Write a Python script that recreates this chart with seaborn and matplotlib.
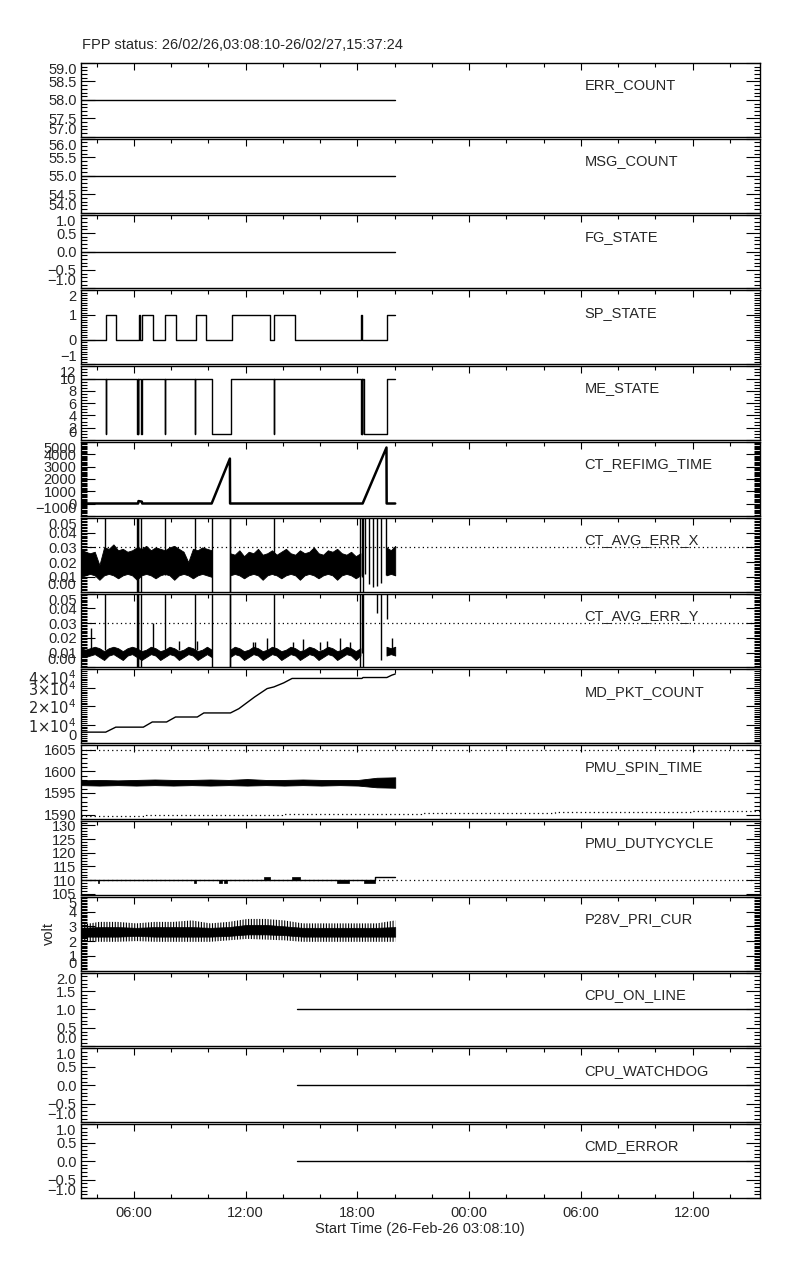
import numpy as np
import matplotlib
matplotlib.use("Agg")
import matplotlib.pyplot as plt
from matplotlib.ticker import MultipleLocator
import seaborn as sns

# time axis: hours since 26-Feb-26 00:00
T_START = 3 + 8 / 60 + 10 / 3600      # 03:08:10
T_STOP = 24 + 15 + 37 / 60 + 24 / 3600  # 27 Feb 15:37:24
DATA_END = 20.03
CPU_START = 14.78

TITLE = "FPP status: 26/02/26,03:08:10-26/02/27,15:37:24"
XLABEL = "Start Time (26-Feb-26 03:08:10)"
xtick_hours = [6, 12, 18, 24, 30, 36]
xtick_labels = ["06:00", "12:00", "18:00", "00:00", "06:00", "12:00"]

err_count = 58
msg_count = 55
fg_state = 0

sp_t = [T_START, 4.48, 5.02, 6.25, 6.30, 6.41, 7.00, 7.64, 8.23, 9.31, 9.84,
        11.24, 13.33, 13.54, 14.62, 18.21, 18.26, 19.60, DATA_END]
sp_v = [0, 1, 0, 1, 0, 1, 0, 1, 0, 1, 0, 1, 0, 1, 0, 1, 0, 1, 1]

me_t = [T_START, 4.47, 4.49, 6.17, 6.19, 6.22, 6.24, 6.37, 6.42, 7.65, 7.67,
        9.26, 9.28, 10.17, 11.20, 13.50, 13.52, 18.20, 18.22, 18.25, 18.27,
        18.33, 19.58, DATA_END]
me_v = [10, 1, 10, 1, 10, 1, 10, 1, 10, 1, 10, 1, 10, 1, 10, 1, 10, 1, 10, 1,
        10, 1, 10, 10]

ref_t = [T_START, 6.22, 6.24, 6.42, 6.44, 10.17, 11.15, 11.16, 18.28, 19.56,
         19.57, DATA_END]
ref_v = [0, 0, 200, 150, 0, 0, 3650, 0, 0, 4550, 0, 0]

# CT_AVG_ERR_X band, sampled every ~0.25 h in three segments
errx_a_hi = [0.029, 0.027, 0.026, 0.027, 0.018, 0.030, 0.029, 0.032, 0.028,
             0.029, 0.027, 0.028, 0.030, 0.029, 0.031, 0.028, 0.030, 0.029,
             0.028, 0.030, 0.031, 0.029, 0.027, 0.020, 0.029, 0.028, 0.030,
             0.029, 0.028]
errx_a_lo = [0.010, 0.011, 0.012, 0.011, 0.008, 0.011, 0.012, 0.011, 0.009,
             0.011, 0.012, 0.011, 0.008, 0.011, 0.012, 0.011, 0.009, 0.011,
             0.012, 0.011, 0.008, 0.011, 0.012, 0.011, 0.009, 0.011, 0.012,
             0.011, 0.010]
errx_b_hi = [0.026, 0.025, 0.028, 0.024, 0.027, 0.026, 0.029, 0.025, 0.026,
             0.028, 0.025, 0.027, 0.029, 0.026, 0.025, 0.028, 0.026, 0.027,
             0.030, 0.026, 0.025, 0.028, 0.027, 0.029, 0.026, 0.025, 0.027,
             0.024, 0.026]
errx_b_lo = [0.011, 0.012, 0.011, 0.009, 0.011, 0.012, 0.011, 0.008, 0.011,
             0.012, 0.011, 0.009, 0.011, 0.012, 0.011, 0.008, 0.011, 0.012,
             0.011, 0.009, 0.011, 0.012, 0.011, 0.008, 0.011, 0.012, 0.011,
             0.009, 0.011]
errx_c_hi = [0.030, 0.028, 0.031]
errx_c_lo = [0.011, 0.012, 0.011]
errx_spk_t = [4.44, 6.15, 6.19, 6.23, 6.38, 7.66, 9.27, 10.17, 11.14, 11.17,
              13.51, 18.16, 18.22, 18.30, 18.39, 18.60, 18.81, 19.05, 19.28,
              19.53]
errx_spk_lo = [0.012, 0.0, 0.0, 0.0, 0.0, 0.011, 0.011, 0.0, 0.0, 0.0, 0.011,
               0.0, 0.010, 0.0, 0.012, 0.005, 0.003, 0.004, 0.006, 0.011]
errx_spk_hi = [0.05] * 20

# CT_AVG_ERR_Y band
erry_a_hi = [0.013, 0.012, 0.013, 0.014, 0.013, 0.011, 0.013, 0.014, 0.013,
             0.011, 0.013, 0.014, 0.013, 0.011, 0.012, 0.014, 0.013, 0.011,
             0.012, 0.014, 0.013, 0.011, 0.012, 0.014, 0.013, 0.011, 0.012,
             0.014, 0.012]
erry_a_lo = [0.008, 0.007, 0.008, 0.009, 0.007, 0.005, 0.008, 0.009, 0.007,
             0.005, 0.008, 0.009, 0.007, 0.005, 0.007, 0.009, 0.008, 0.005,
             0.007, 0.009, 0.008, 0.005, 0.007, 0.009, 0.008, 0.005, 0.007,
             0.009, 0.007]
erry_b_hi = [0.012, 0.014, 0.013, 0.011, 0.012, 0.014, 0.013, 0.011, 0.012,
             0.014, 0.013, 0.011, 0.012, 0.014, 0.013, 0.011, 0.012, 0.014,
             0.013, 0.011, 0.012, 0.014, 0.013, 0.011, 0.012, 0.014, 0.013,
             0.011, 0.013]
erry_b_lo = [0.007, 0.009, 0.008, 0.005, 0.007, 0.009, 0.008, 0.005, 0.007,
             0.009, 0.008, 0.005, 0.007, 0.009, 0.008, 0.005, 0.007, 0.009,
             0.008, 0.005, 0.007, 0.009, 0.008, 0.005, 0.007, 0.009, 0.008,
             0.005, 0.008]
erry_c_hi = [0.014, 0.013, 0.014]
erry_c_lo = [0.008, 0.009, 0.008]
erry_spk_t = [3.68, 4.44, 6.15, 6.19, 6.23, 6.38, 7.04, 7.66, 8.41, 9.27, 9.40,
              10.17, 11.14, 11.17, 12.40, 12.52, 13.15, 13.51, 14.56, 15.10,
              16.00, 16.37, 17.08, 17.60, 18.16, 18.22, 18.30, 19.05, 19.28,
              19.58, 19.85]
erry_spk_lo = [0.012, 0.012, 0.0, 0.0, 0.0, 0.0, 0.012, 0.012, 0.012, 0.012,
               0.012, 0.0, 0.0, 0.0, 0.012, 0.012, 0.012, 0.012, 0.012, 0.012,
               0.012, 0.012, 0.012, 0.012, 0.0, 0.010, 0.0, 0.037, 0.005,
               0.033, 0.012]
erry_spk_hi = [0.027, 0.05, 0.05, 0.05, 0.05, 0.05, 0.030, 0.05, 0.018, 0.05,
               0.018, 0.05, 0.05, 0.05, 0.017, 0.017, 0.020, 0.05, 0.017,
               0.019, 0.017, 0.018, 0.020, 0.017, 0.05, 0.05, 0.05, 0.05, 0.05,
               0.05, 0.020]

md_t = [T_START, 4.48, 5.02, 6.50, 6.98, 7.75, 8.23, 9.40, 9.75, 11.18, 11.63,
        12.47, 13.15, 13.51, 14.04, 14.49, 18.24, 18.30, 19.58, 19.85,
        DATA_END]
md_v = [6000, 6000, 8700, 8700, 11500, 11500, 14200, 14200, 16400, 16400,
        18700, 25000, 29600, 30500, 32700, 35100, 35100, 35600, 35600, 36900,
        37500]

# PMU_SPIN_TIME band, ~1 h samples
spin_hi = [1597.9, 1598.0, 1597.9, 1598.0, 1598.1, 1598.0, 1598.0, 1598.1,
           1598.0, 1598.2, 1598.0, 1598.0, 1598.1, 1598.0, 1598.0, 1598.0,
           1598.5, 1598.6]
spin_lo = [1596.8, 1596.7, 1596.8, 1596.7, 1596.8, 1596.7, 1596.8, 1596.7,
           1596.8, 1596.7, 1596.8, 1596.7, 1596.8, 1596.7, 1596.8, 1596.7,
           1596.3, 1596.2]
spin_limit_hi = 1605
spin_limit_t = [T_START, 6.63, 13.96, 21.4, 28.6, 35.9, T_STOP]
spin_limit_lo = [1589.6, 1589.9, 1590.2, 1590.4, 1590.6, 1590.8, 1590.8]

duty_t = [T_START, 18.96, 18.96, DATA_END]
duty_v = [110, 110, 111, 111]
duty_limit = 110
duty_blk_t0 = [4.04, 9.24, 10.56, 10.86, 12.97, 14.46, 16.90, 18.33]
duty_blk_t1 = [4.14, 9.34, 10.74, 11.00, 13.29, 14.94, 17.53, 18.96]
duty_blk_lo = [109, 109, 109, 109, 110, 110, 109, 109]
duty_blk_hi = [110, 110, 110, 110, 111, 111, 110, 110]

# P28V_PRI_CUR band, ~1 h samples
cur_tip_hi = [3.1, 3.3, 3.3, 3.2, 3.3, 3.3, 3.4, 3.2, 3.3, 3.5, 3.5, 3.4, 3.2,
              3.2, 3.2, 3.2, 3.2, 3.4]
cur_core_hi = [2.9, 2.95, 2.95, 2.9, 2.95, 2.95, 2.95, 2.9, 2.95, 3.1, 3.1,
               3.0, 2.9, 2.9, 2.9, 2.9, 2.9, 2.95]
cur_core_lo = [2.3, 2.3, 2.3, 2.35, 2.3, 2.3, 2.3, 2.3, 2.35, 2.45, 2.45, 2.4,
               2.3, 2.3, 2.3, 2.3, 2.3, 2.3]
cur_tip_lo = [2.0, 1.95, 1.95, 2.0, 1.95, 1.95, 1.95, 1.95, 2.05, 2.15, 2.1,
              2.05, 1.95, 1.95, 1.95, 1.95, 1.95, 1.95]

cpu_on_line = 1
cpu_watchdog = 0
cmd_error = 0

panels = [
    ("ERR_COUNT", (57, 59), 0.5, 0.1, "{:.1f}"),
    ("MSG_COUNT", (54, 56), 0.5, 0.1, "{:.1f}"),
    ("FG_STATE", (-1, 1), 0.5, 0.1, "{:.1f}"),
    ("SP_STATE", (-1, 2), 1, 0.1, "{:.0f}"),
    ("ME_STATE", (0, 12), 2, 0.5, "{:.0f}"),
    ("CT_REFIMG_TIME", (-1000, 5000), 1000, 100, "{:.0f}"),
    ("CT_AVG_ERR_X", (0, 0.05), 0.01, 0.001, "{:.2f}"),
    ("CT_AVG_ERR_Y", (0, 0.05), 0.01, 0.001, "{:.2f}"),
    ("MD_PKT_COUNT", (0, 40000), 10000, 1000, "sci"),
    ("PMU_SPIN_TIME", (1589, 1606), 5, 1, "{:.0f}"),
    ("PMU_DUTYCYCLE", (104.6, 131.6), 5, 1, "{:.0f}"),
    ("P28V_PRI_CUR", (0, 5), 1, 0.1, "{:.0f}"),
    ("CPU_ON_LINE", (0, 2), 0.5, 0.1, "{:.1f}"),
    ("CPU_WATCHDOG", (-1, 1), 0.5, 0.1, "{:.1f}"),
    ("CMD_ERROR", (-1, 1), 0.5, 0.1, "{:.1f}"),
]

sns.set_style("white")
plt.rcParams["font.family"] = ["Liberation Sans", "DejaVu Sans"]
plt.rcParams["mathtext.fontset"] = "dejavusans"
plt.rcParams["hatch.linewidth"] = 0.8


def tick_text(v, fmt):
    v = round(float(v), 9) + 0.0
    if fmt == "sci":
        if abs(v) < 1:
            return "0"
        return r"$%d{\times}10^{4}$" % round(v / 1e4)
    s = fmt.format(v)
    if float(s) == 0:
        s = s.lstrip("-")
    return s.replace("-", "\u2212")


def line(ax, t, v, **kw):
    sns.lineplot(x=t, y=v, ax=ax, color="black", linewidth=1.0,
                 estimator=None, sort=False, legend=False, **kw)


def band(ax, t0, t1, lo, hi, **kw):
    t = np.linspace(t0, t1, len(lo))
    ax.fill_between(t, lo, hi, color="black", linewidth=0.6, **kw)


fig = plt.figure(figsize=(8, 12.8), dpi=100)
W, H = 800, 1280
left_px, right_px = 80.7, 760
top_px, step_px, h_px = 63, 75.8, 73.8

axes = []
for i, (name, ylim, major, minor, fmt) in enumerate(panels):
    y_top = top_px + i * step_px
    ax = fig.add_axes([left_px / W, 1 - (y_top + h_px) / H,
                       (right_px - left_px) / W, h_px / H])
    ax.set_xlim(T_START, T_STOP)
    ax.set_ylim(*ylim)
    first = np.ceil(ylim[0] / major - 1e-9) * major
    yt = np.arange(first, ylim[1] + major * 1e-6, major)
    ax.set_yticks(yt, [tick_text(v, fmt) for v in yt])
    ax.yaxis.set_minor_locator(MultipleLocator(minor))
    # end labels kept inside the panel, as in the original plot
    for v, lab in zip(yt, ax.get_yticklabels()):
        if abs(v - ylim[1]) < major * 1e-3:
            lab.set_verticalalignment("top")
        elif abs(v - ylim[0]) < major * 1e-3:
            lab.set_verticalalignment("bottom")
    ax.set_xticks(xtick_hours)
    ax.xaxis.set_minor_locator(MultipleLocator(2))
    last = i == len(panels) - 1
    ax.tick_params(axis="x", which="both", direction="in", top=True,
                   bottom=last, labelbottom=last, width=0.8, color="black")
    ax.tick_params(axis="x", which="major", length=5)
    ax.tick_params(axis="x", which="minor", length=2.6)
    ax.tick_params(axis="y", which="both", direction="in", left=True,
                   right=True, width=0.8, color="black", labelsize=10.5,
                   pad=3)
    ax.tick_params(axis="y", which="major", length=10)
    ax.tick_params(axis="y", which="minor", length=4.3)
    for s in ax.spines.values():
        s.set_linewidth(1.0)
        s.set_color("black")
    ax.text(0.742, 0.70, name, transform=ax.transAxes, fontsize=10.5,
            ha="left", va="center")
    axes.append(ax)

(ax_err, ax_msg, ax_fg, ax_sp, ax_me, ax_ref, ax_ex, ax_ey, ax_md, ax_spin,
 ax_duty, ax_cur, ax_cpu, ax_wd, ax_cmd) = axes

line(ax_err, [T_START, DATA_END], [err_count] * 2)
line(ax_msg, [T_START, DATA_END], [msg_count] * 2)
line(ax_fg, [T_START, DATA_END], [fg_state] * 2)
line(ax_sp, sp_t, sp_v, drawstyle="steps-post")
line(ax_me, me_t, me_v, drawstyle="steps-post")
line(ax_ref, ref_t, ref_v)
ax_ref.lines[-1].set_linewidth(1.8)

for ax, segs, spk in [
    (ax_ex, [(T_START, 10.17, errx_a_lo, errx_a_hi),
             (11.16, 18.16, errx_b_lo, errx_b_hi),
             (19.56, DATA_END, errx_c_lo, errx_c_hi)],
     (errx_spk_t, errx_spk_lo, errx_spk_hi)),
    (ax_ey, [(T_START, 10.17, erry_a_lo, erry_a_hi),
             (11.16, 18.16, erry_b_lo, erry_b_hi),
             (19.56, DATA_END, erry_c_lo, erry_c_hi)],
     (erry_spk_t, erry_spk_lo, erry_spk_hi))]:
    for t0, t1, lo, hi in segs:
        band(ax, t0, t1, lo, hi)
    ax.vlines(spk[0], spk[1], spk[2], color="black", linewidth=1.0)
    ax.axhline(0.03, color="black", linestyle=(0, (1, 2.5)), linewidth=0.9)

line(ax_md, md_t, md_v)

band(ax_spin, T_START, DATA_END, spin_lo, spin_hi)
ax_spin.axhline(spin_limit_hi, color="black", linestyle=(0, (1, 2.5)),
                linewidth=0.9)
ax_spin.step(spin_limit_t, spin_limit_lo, where="post", color="black",
             linestyle=(0, (1, 2.5)), linewidth=0.9)

ax_duty.axhline(duty_limit, color="black", linestyle=(0, (1, 2.5)),
                linewidth=0.9)
line(ax_duty, duty_t, duty_v)
for t0, t1, lo, hi in zip(duty_blk_t0, duty_blk_t1, duty_blk_lo, duty_blk_hi):
    ax_duty.fill_between([t0, t1], [lo, lo], [hi, hi], color="black",
                         linewidth=0.5)

tc = np.linspace(T_START, DATA_END, len(cur_tip_hi))
ax_cur.fill_between(tc, cur_tip_lo, cur_tip_hi, facecolor="none",
                    edgecolor="black", hatch="||||||", linewidth=0)
ax_cur.fill_between(tc, cur_core_lo, cur_core_hi, color="black",
                    linewidth=0.5)
ax_cur.set_ylabel("volt", fontsize=10.5)
ax_cur.yaxis.set_label_coords(-0.036, 0.5)

line(ax_cpu, [CPU_START, T_STOP], [cpu_on_line] * 2)
line(ax_wd, [CPU_START, T_STOP], [cpu_watchdog] * 2)
line(ax_cmd, [CPU_START, T_STOP], [cmd_error] * 2)

ax_cmd.set_xticklabels(xtick_labels, fontsize=10.5)
ax_cmd.tick_params(axis="x", which="major", pad=6)
ax_cmd.set_xlabel(XLABEL, fontsize=10.5, labelpad=1)

fig.text(82 / W, 1 - 45 / H, TITLE, fontsize=10.5, ha="left", va="center")

fig.savefig("out.png", dpi=100, facecolor="white")
